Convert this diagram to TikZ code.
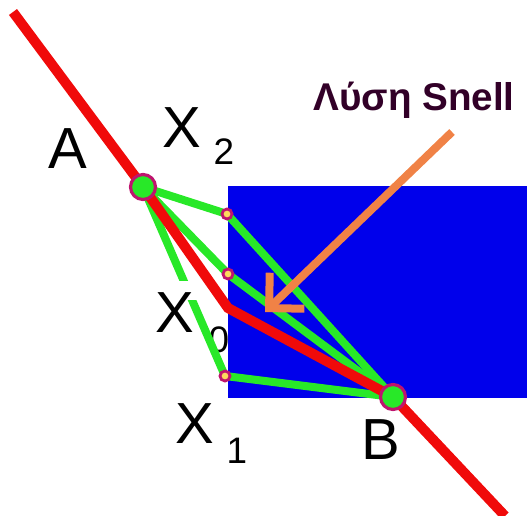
\documentclass[tikz,border=0pt]{standalone}
\usepackage{fontspec}
\setmainfont{Liberation Sans}
\usetikzlibrary{arrows.meta,positioning}
\definecolor{glass}{RGB}{0,0,235}
\definecolor{ray}{RGB}{240,10,10}
\definecolor{trial}{RGB}{40,232,40}
\definecolor{rim}{RGB}{190,20,110}
\definecolor{hint}{RGB}{240,130,70}
\definecolor{ink}{RGB}{50,0,40}

\begin{document}
\begin{tikzpicture}[x=0.02cm,y=-0.02cm,
   lbl/.style={inner sep=0pt,font=\fontsize{33}{33}\selectfont},
   sub/.style={inner sep=0pt,font=\fontsize{21}{21}\selectfont},
   endpt/.style={circle,draw=rim,fill=trial,line width=1.8pt,minimum size=0.5cm,inner sep=0pt},
   pt/.style={circle,draw=rim,fill=yellow!50!pink,line width=1.6pt,minimum size=0.2cm,inner sep=0pt},
   trialray/.style={trial,line width=0.16cm},
   snellray/.style={ray,line width=0.2cm}]
  \useasboundingbox (0,0) rectangle (527,516);
  % points of the construction
  \coordinate (top) at (13,12);
  \coordinate (A) at (143,187);
  \coordinate (X2) at (227,214);
  \coordinate (Xm) at (228,274);
  \coordinate (X0) at (228,308);
  \coordinate (X1) at (225,376);
  \coordinate (B) at (393,397);
  \coordinate (bot) at (505,516);
  \node[sub] (s0) at (219,340) {0};
  % glass
  \fill[glass] (228,186) rectangle (527,398);
  % trial paths
  \foreach \p in {X2,Xm,X1}
    \draw[trialray] (A) -- (\p) -- (B);
  \fill[white] (150,281) rectangle (198,300);
  % Snell path
  \draw[snellray] (top) -- (A) -- (X0) -- (B) -- (bot);
  \node[endpt] (Ac) at (A) {};
  \node[endpt] (Bc) at (B) {};
  \node[pt] (X2c) at (X2) {};
  \node[pt] (Xmc) at (Xm) {};
  \node[pt] (X1c) at (X1) {};
  % labels
  \node[lbl] (lA) at (68,149) {A};
  \node[lbl] (lX2) at (182,128) {X};
  \node[sub] (s2) at (224,152) {2};
  \node[lbl] (lX0) at (175,313) {X};
  \node[lbl] (lX1) at (195,424) {X};
  \node[sub] (s1) at (237,451) {1};
  \node[lbl] (lB) at (381,440) {B};
  \node[inner sep=0pt,text=ink,font=\bfseries\fontsize{22}{22}\selectfont] (snell) at (414,100) {Λύση Snell};
  \coordinate (tail) at (452,132);
  \coordinate (tip) at (265,312);
  \draw[hint,line width=0.16cm,-{Straight Barb[length=0.5cm,width=1cm]}] (tail) -- (tip);
\end{tikzpicture}
\end{document}
